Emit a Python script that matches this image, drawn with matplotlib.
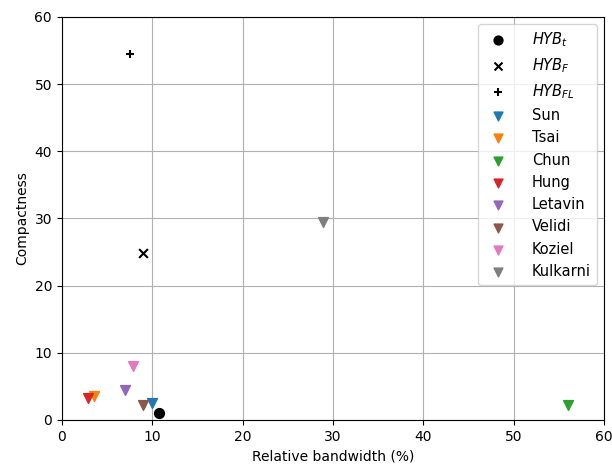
import numpy as np
import matplotlib
matplotlib.use("Agg")
import matplotlib.pyplot as plt

# HYB designs
hyb_labels = [r"$HYB_t$", r"$HYB_F$", r"$HYB_{FL}$"]
hyb_markers = ["o", "x", "+"]
hyb_bw = [10.8, 9.0, 7.6]
hyb_comp = [1.0, 24.9, 54.4]

# reference works
ref_labels = ["Sun", "Tsai", "Chun", "Hung", "Letavin", "Velidi", "Koziel", "Kulkarni"]
ref_bw = [10.0, 3.6, 56.0, 2.9, 7.0, 9.0, 7.9, 28.9]
ref_comp = [2.5, 3.6, 2.2, 3.2, 4.5, 2.3, 8.0, 29.5]

fig, ax = plt.subplots(figsize=(6.12, 4.68), dpi=100)
fig.subplots_adjust(left=0.101, right=0.987, top=0.964, bottom=0.1026)

for lab, mk, x, y in zip(hyb_labels, hyb_markers, hyb_bw, hyb_comp):
    ax.scatter(x, y, marker=mk, color="black", s=50 if mk == "o" else 40,
               label=lab, zorder=3)

colors = plt.rcParams["axes.prop_cycle"].by_key()["color"]
for i, (lab, x, y) in enumerate(zip(ref_labels, ref_bw, ref_comp)):
    ax.scatter(x, y, marker="v", color=colors[i], s=50, label=lab, zorder=3)

ax.set_xlim(0, 60)
ax.set_ylim(0, 60)
ax.set_xticks(np.arange(0, 61, 10))
ax.set_yticks(np.arange(0, 61, 10))
ax.grid(True)
ax.set_axisbelow(True)
ax.set_xlabel("Relative bandwidth (%)")
ax.set_ylabel("Compactness")
ax.legend(loc="upper right", fontsize=10.5, markerscale=0.9,
          handletextpad=1.3)

plt.savefig("out.png", dpi=100)
